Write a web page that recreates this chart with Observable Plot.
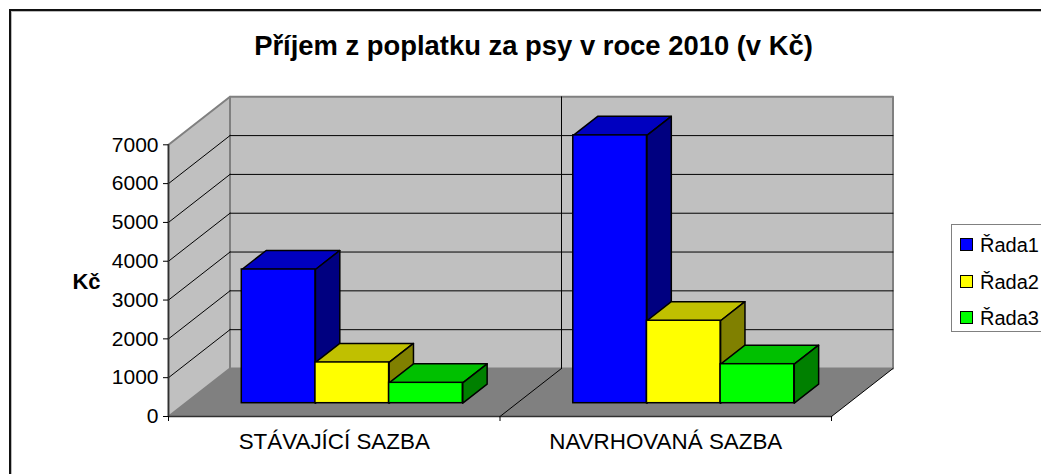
<!DOCTYPE html>
<html lang="cs">
<head>
<meta charset="utf-8">
<script src="https://cdn.jsdelivr.net/npm/d3@7"></script>
<script src="https://cdn.jsdelivr.net/npm/@observablehq/plot@0.6"></script>
<style>
  html, body { margin: 0; padding: 0; background: #fff; overflow: hidden; width: 1041px; height: 474px; }
  body { position: relative; font-family: "Liberation Sans", Arial, sans-serif; color: #000; }
  #frame { position: absolute; left: 9px; top: 9px; width: 1100px; height: 600px; border: 2px solid #111; box-sizing: border-box; box-shadow: inset 1px 1px 0 #bbb; }
  #chart { position: absolute; left: 0; top: 0; }
  #title { position: absolute; left: 0; width: 1067px; top: 31px; text-align: center; font-weight: bold; font-size: 27.4px; line-height: 30px; margin: 0; white-space: nowrap; }
  #legend { position: absolute; left: 951px; top: 224px; width: 120px; height: 108px; border: 1px solid #808080; box-sizing: border-box; background: #fff; }
  #legend div { position: absolute; left: 28px; font-size: 20px; line-height: 24px; white-space: nowrap; }
  #legend i { position: absolute; left: -20px; top: 5px; width: 13px; height: 13px; border: 1.5px solid #000; box-sizing: border-box; }
</style>
</head>
<body>
<div id="frame"></div>
<div id="chart"></div>
<h1 id="title"></h1>
<div id="legend"></div>
<script>
const titleText = "Příjem z poplatku za psy v roce 2010 (v Kč)";
const yLabel = "Kč";
const categories = ["STÁVAJÍCÍ SAZBA", "NAVRHOVANÁ SAZBA"];
const seriesNames = ["Řada1", "Řada2", "Řada3"];
const rada1 = [3445, 6900];
const rada2 = [1050, 2125];
const rada3 = [525, 1005];
const seriesValues = [rada1, rada2, rada3];
const yTicks = [0, 1000, 2000, 3000, 4000, 5000, 6000, 7000];
const frontColors = ["#0000ff", "#ffff00", "#00ff00"];
const topColors = ["#0000c0", "#c0c000", "#00c000"];
const sideColors = ["#000080", "#808000", "#008000"];

// Pseudo-3D: depth (0 = front plane, 1 = back wall) shifts a point in data units.
const depthX = 61.5 / 331.5;
const depthY = 1237;
const P = (x, y, d = 0) => ({x: x + d * depthX, y: y + d * depthY});
const yMax = 7000;
const xMax = categories.length;
const poly = (pts, fill, stroke, strokeWidth = 1) =>
  Plot.line(pts, {x: "x", y: "y", fill, stroke, strokeWidth, curve: "linear-closed"});
const seg = (a, b, stroke, strokeWidth = 1) =>
  Plot.line([a, b], {x: "x", y: "y", stroke, strokeWidth});

const barW = 1 / 4.5, gap = 0.75 / 4.5 + 0.003, d0 = 0.277, d1 = 0.673;
const walls = [
  poly([P(0,0,0), P(0,yMax,0), P(0,yMax,1), P(0,0,1)], "#c0c0c0", "#808080", 2),
  poly([P(0,0,1), P(0,yMax,1), P(xMax,yMax,1), P(xMax,0,1)], "#c0c0c0", "#808080", 2),
  poly([P(0,0,0), P(0,0,1), P(xMax,0,1), P(xMax,0,0)], "#808080", "none")
];
const grid = yTicks.slice(1, -1).flatMap(v => [
  seg(P(0,v,0), P(0,v,1), "#000"),
  seg(P(0,v,1), P(xMax,v,1), "#000")
]);
const barMarks = [];
categories.forEach((c, ci) => {
  seriesValues.forEach((vals, si) => {
    const v = vals[ci];
    const xa = ci + gap + si * barW, xb = xa + barW;
    barMarks.push(
      poly([P(xa,v,d0), P(xa,v,d1), P(xb,v,d1), P(xb,v,d0)], topColors[si], "#000", 1.5),
      poly([P(xb,0,d0), P(xb,v,d0), P(xb,v,d1), P(xb,0,d1)], sideColors[si], "#000", 1.5),
      Plot.rect([{a: P(xa,0,d0), b: P(xb,v,d0)}], {
        x1: r => r.a.x, x2: r => r.b.x, y1: r => r.a.y, y2: r => r.b.y,
        fill: frontColors[si], stroke: "#000", strokeWidth: 1.5
      })
    );
  });
});

const plot = Plot.plot({
  width: 1041, height: 474,
  marginLeft: 168, marginRight: 210, marginTop: 144.3, marginBottom: 58,
  style: {background: "transparent", fontFamily: "Liberation Sans, Arial, sans-serif", color: "#000", overflow: "visible"},
  x: {domain: [0, xMax], axis: null},
  y: {domain: [0, yMax], axis: null},
  marks: [
    ...walls,
    ...grid,
    seg(P(1,0,1), P(1,yMax,1), "#000"),
    seg(P(1,0,0), P(1,0,1), "#000"),
    seg(P(xMax,0,0), P(xMax,0,1), "#000"),
    seg(P(0,0,0), P(xMax,0,0), "#303030", 1.5),
    seg(P(0,0,0), P(0,yMax,0), "#303030", 1.5),
    Plot.axisY({anchor: "left", ticks: yTicks, tickSize: 5, tickPadding: 5, fontSize: 21, tickFormat: d => String(d), label: null}),
    Plot.axisX({anchor: "bottom", ticks: [0, 1, 2], tickSize: 5, tickFormat: () => "", label: null}),
    Plot.text(categories, {x: (d, i) => i + 0.5, y: 0, text: d => d, dy: 25, fontSize: 22.4, fill: "#000"}),
    Plot.text([yLabel], {x: 0, y: 3500, text: d => d, dx: -82, dy: 1, fontSize: 22, fontWeight: "bold", fill: "#000"}),
    ...barMarks
  ]
});
document.getElementById("chart").appendChild(plot);
document.getElementById("title").textContent = titleText;
const legend = document.getElementById("legend");
seriesNames.forEach((name, i) => {
  const row = document.createElement("div");
  row.style.top = (8 + i * 36.5) + "px";
  row.textContent = name;
  const sw = document.createElement("i");
  sw.style.background = frontColors[i];
  row.appendChild(sw);
  legend.appendChild(row);
});
</script>
</body>
</html>
